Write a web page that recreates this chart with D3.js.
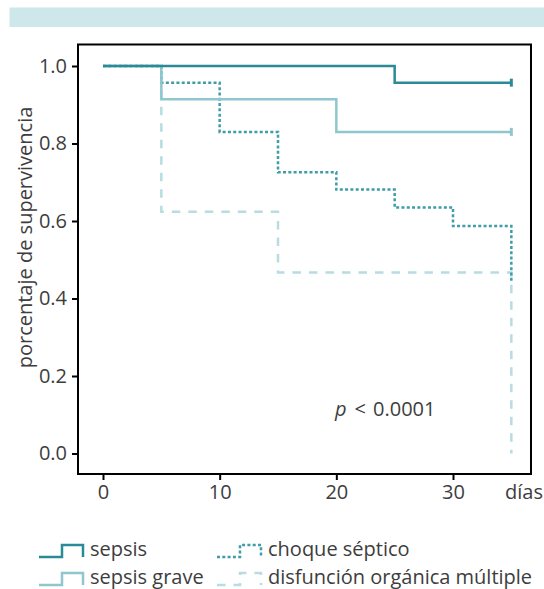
<!DOCTYPE html>
<html>
<head>
<meta charset="utf-8">
<script src="https://cdn.jsdelivr.net/npm/d3@7"></script>
<style>
  body { margin: 0; background: #fff; }
  text { font-family: "Open Sans", sans-serif; fill: #3d3d3d; }
</style>
</head>
<body>
<script>
(function(){

//survival data (time in days, survival after the step)
var sepsisT = [0, 25, 35],
    sepsisS = [1.0, 0.957, 0.957];
var graveT = [0, 5, 20, 35],
    graveS = [1.0, 0.914, 0.830, 0.830];
var choqueT = [0, 5, 10, 15, 20, 25, 30, 35],
    choqueS = [1.0, 0.957, 0.830, 0.726, 0.681, 0.635, 0.587, 0.44];
var disfT = [0, 5, 15, 35],
    disfS = [1.0, 0.624, 0.467, 0.0];

//censored observations at the end of follow up
var censorGroups = ["sepsis", "sepsis grave"];
var censorT = [35, 35],
    censorS = [0.957, 0.830];

var groupNames = ["sepsis", "sepsis grave", "choque séptico", "disfunción orgánica múltiple"];
var xTicks = [0, 10, 20, 30],
    yTicks = [0, 0.2, 0.4, 0.6, 0.8, 1.0];
var pLabel = "0.0001";

var width = 544, height = 589,
    fontSize = "20px";

var styles = {
    "sepsis": {color: "#2a8b97", dash: null},
    "sepsis grave": {color: "#8ec7cd", dash: null},
    "choque séptico": {color: "#3f9ca8", dash: "3,2.3"},
    "disfunción orgánica múltiple": {color: "#b8dce1", dash: "8.5,8"}
};

var svg = d3.select("body").append("svg")
    .attr("width", width)
    .attr("height", height);

//header band
svg.append("rect")
    .attr("x", 9.5).attr("y", 7.5)
    .attr("width", width - 9.5).attr("height", 19.5)
    .attr("fill", "#cde7ea");

//plot frame
var box = {left: 78, top: 44.5, right: 531, bottom: 474};

var x = d3.scaleLinear().domain([0, 30]).range([103, 453]);
var y = d3.scaleLinear().domain([0, 1]).range([453.5, 66]);

function zip(t, s){
    return t.map(function(d, i){ return [d, s[i]]; });
}

var series = [
    {name: "disfunción orgánica múltiple", data: zip(disfT, disfS)},
    {name: "choque séptico", data: zip(choqueT, choqueS)},
    {name: "sepsis grave", data: zip(graveT, graveS)},
    {name: "sepsis", data: zip(sepsisT, sepsisS)}
];

var line = d3.line()
    .x(function(d){ return x(d[0]); })
    .y(function(d){ return y(d[1]); })
    .curve(d3.curveStepAfter);

svg.selectAll(".km")
    .data(series)
    .enter()
    .append("path")
    .attr("class", "km")
    .attr("d", function(d){ return line(d.data); })
    .attr("fill", "none")
    .attr("stroke", function(d){ return styles[d.name].color; })
    .attr("stroke-width", 2.5)
    .attr("stroke-dasharray", function(d){ return styles[d.name].dash; });

//censor ticks
svg.selectAll(".censor")
    .data(censorT)
    .enter()
    .append("line")
    .attr("class", "censor")
    .attr("x1", function(d){ return x(d); })
    .attr("x2", function(d){ return x(d); })
    .attr("y1", function(d, i){ return y(censorS[i]) - 4; })
    .attr("y2", function(d, i){ return y(censorS[i]) + 4; })
    .attr("stroke", function(d, i){ return styles[censorGroups[i]].color; })
    .attr("stroke-width", 3);

svg.append("rect")
    .attr("x", box.left).attr("y", box.top)
    .attr("width", box.right - box.left).attr("height", box.bottom - box.top)
    .attr("fill", "none")
    .attr("stroke", "#000")
    .attr("stroke-width", 2);

//axes
var yAxis = svg.append("g")
    .attr("transform", "translate(" + box.left + ",0)")
    .call(d3.axisLeft(y).tickValues(yTicks).tickFormat(d3.format(".1f")).tickSize(6).tickPadding(5));

var xAxis = svg.append("g")
    .attr("transform", "translate(0," + box.bottom + ")")
    .call(d3.axisBottom(x).tickValues(xTicks).tickSize(6).tickPadding(5));

[yAxis, xAxis].forEach(function(g){
    g.select(".domain").remove();
    g.selectAll(".tick line").attr("stroke", "#000").attr("stroke-width", 2);
    g.selectAll(".tick text")
        .style("font-family", "'Open Sans', sans-serif")
        .style("font-size", fontSize)
        .attr("fill", "#3d3d3d");
});

svg.append("text")
    .attr("x", 505).attr("y", 499)
    .style("font-size", fontSize)
    .text("días");

svg.append("text")
    .attr("transform", "translate(32,237.5) rotate(-90)")
    .attr("text-anchor", "middle")
    .style("font-size", fontSize)
    .text("porcentaje de supervivencia");

//log-rank p value
var pText = svg.append("text")
    .attr("x", 335).attr("y", 416)
    .style("font-size", fontSize);
pText.append("tspan").style("font-style", "italic").text("p");
pText.append("tspan").attr("dx", 8).text("<");
pText.append("tspan").attr("dx", 7).text(pLabel);

//legend
var legendPos = [
    {name: "sepsis", x: 39, y: 557},
    {name: "sepsis grave", x: 39, y: 585},
    {name: "choque séptico", x: 217, y: 557},
    {name: "disfunción orgánica múltiple", x: 217, y: 585}
];

var legend = svg.selectAll(".legend")
    .data(legendPos)
    .enter()
    .append("g")
    .attr("class", "legend")
    .attr("transform", function(d){ return "translate(" + d.x + "," + d.y + ")"; });

legend.append("path")
    .attr("d", "M0,0 L23,0 L23,-12 L44,-12 L44,0")
    .attr("fill", "none")
    .attr("stroke", function(d){ return styles[d.name].color; })
    .attr("stroke-width", 2.5)
    .attr("stroke-dasharray", function(d){ return styles[d.name].dash; });

legend.append("text")
    .attr("x", 51)
    .attr("y", -1)
    .style("font-size", fontSize)
    .text(function(d){ return d.name; });

})();
</script>
</body>
</html>
